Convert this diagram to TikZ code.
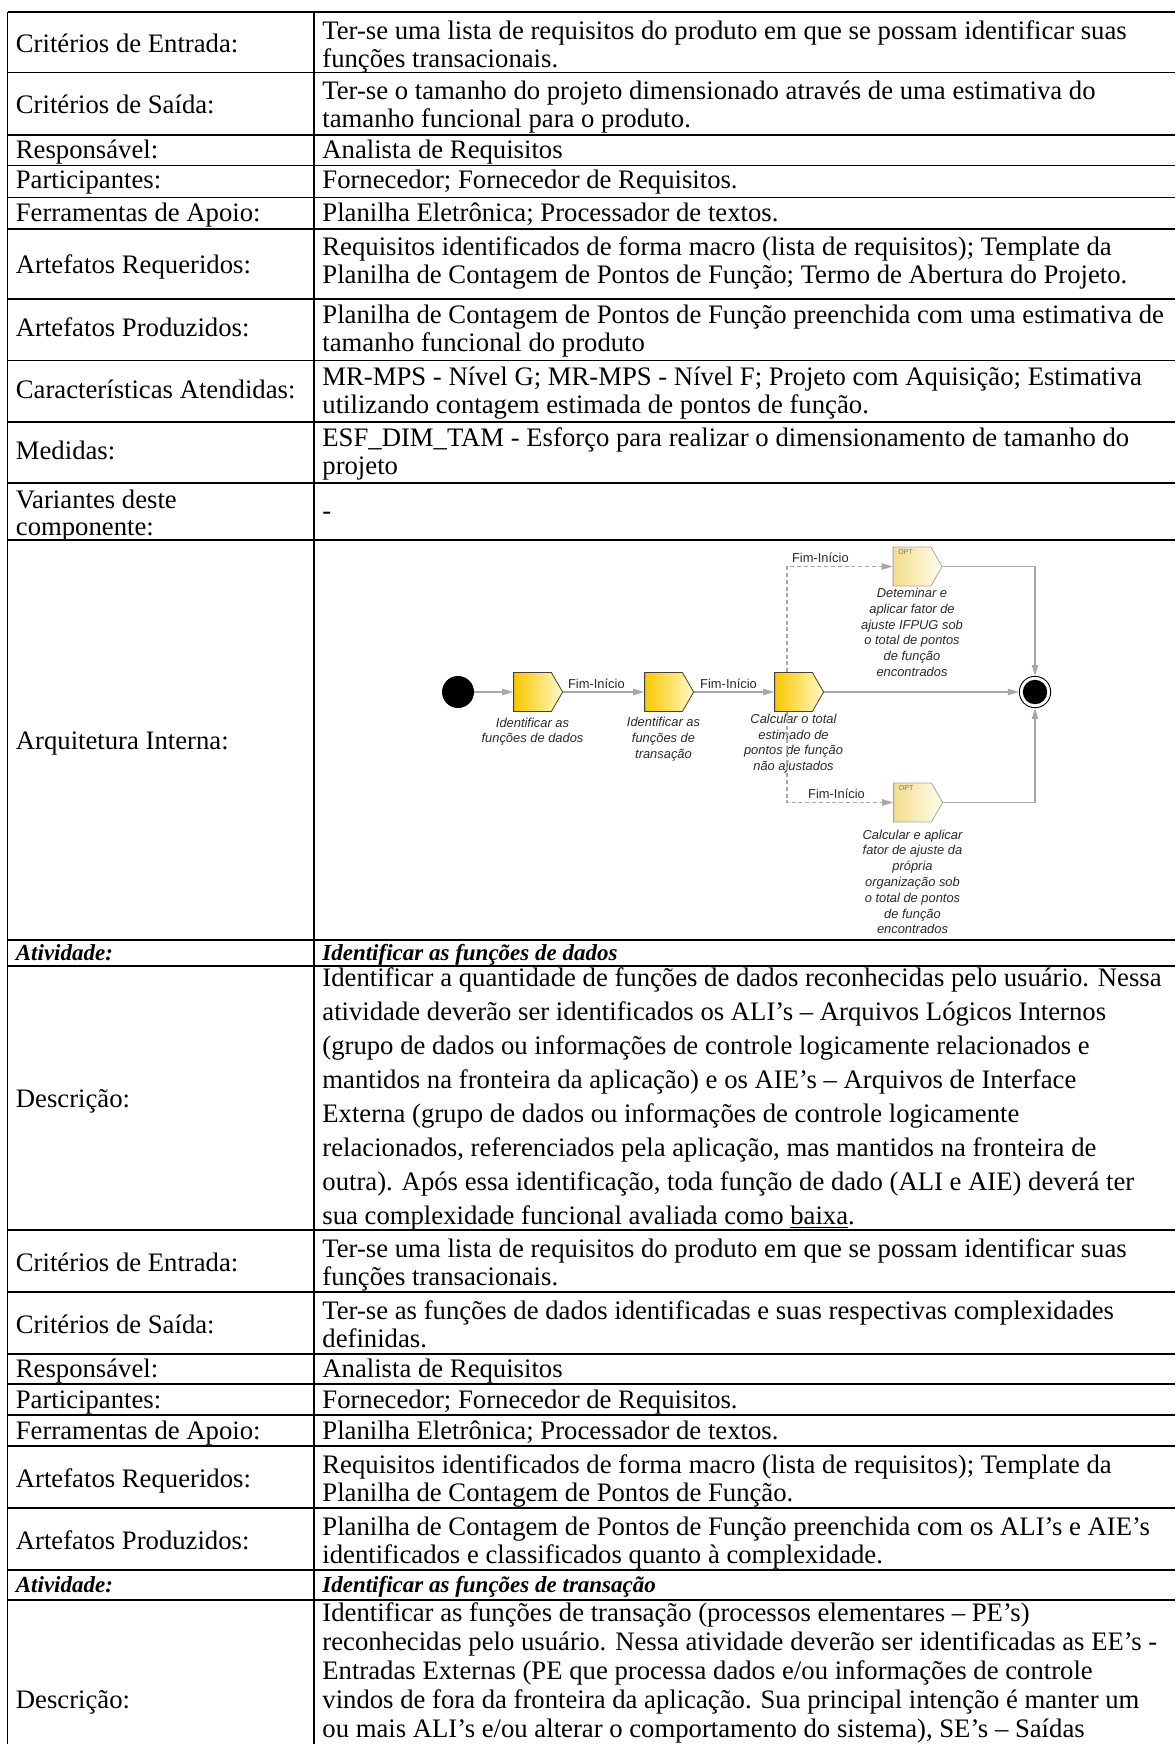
\documentclass[tikz,border=0pt]{standalone}
\usepackage{fontspec}
\setmainfont{Liberation Serif}
\newfontfamily\diagfont{Liberation Sans}
\usetikzlibrary{shapes.symbols,arrows.meta}

\definecolor{connGray}{HTML}{A8A8A8}
\definecolor{labelInk}{HTML}{2A2A2A}
\definecolor{taskGold}{HTML}{F9C800}
\definecolor{taskPale}{HTML}{FFF8C8}
\definecolor{optGold}{HTML}{F3DE8A}
\definecolor{optPale}{HTML}{FFFCEE}

% multi-line cell text; optional argument is the leading in pt
\newcommand\celltext[2][14]{\parbox[t]{470pt}{\fontsize{13.35}{#1}\selectfont\raggedright #2}}

\begin{document}
\begin{tikzpicture}[x=0.5pt,y=-0.5pt,
  rule/.style={line width=0.65pt,black},
  cell/.style={anchor=base west,inner sep=0pt,font=\fontsize{13.35}{14}\selectfont},
  head/.style={cell,font=\fontsize{11.5}{13}\selectfont\bfseries\itshape},
  task/.style={signal,signal to=east,signal pointer angle=120,draw=black!75,line width=0.4pt,
    left color=taskGold,right color=taskPale,minimum width=24.5pt,minimum height=19.5pt,inner sep=0pt},
  opttask/.style={task,draw=black!35,left color=optGold,right color=optPale},
  tasklabel/.style={anchor=north,inner sep=0pt,align=center,text=labelInk,
    font=\diagfont\itshape\fontsize{6.45}{7.9}\selectfont},
  flowlabel/.style={anchor=south,inner sep=1.5pt,text=labelInk,font=\diagfont\fontsize{6.45}{7.9}\selectfont},
  conn/.style={draw=connGray,line width=0.7pt,-{Triangle[length=5.5pt,width=3.2pt]}},
  dconn/.style={conn,dash pattern=on 2pt off 1.4pt},
]
\useasboundingbox (0,0) rectangle (1175,1744);
\fill[white] (0,0) rectangle (1175,1744);

% ---- table grid ----
\foreach \yy in {12,72.5,135,165.5,197.5,229,299,360.5,422,483,540,940,966,1230,1292,1354,1384,1415,1446,1508,1570,1600}
  \draw[rule] (7.5,\yy) -- (1175,\yy);
\draw[rule] (7.5,12) -- (7.5,1744);
\draw[rule] (314,12) -- (314,1744);

% ---- component rows ----
\node[cell] (k1) at (15.5,52.25) {Critérios de Entrada:};
\node[cell] (v1) at (322,39.5) {\celltext{Ter-se uma lista de requisitos do produto em que se possam identificar suas\\funções transacionais.}};
\node[cell] (k2) at (15.5,113.75) {Critérios de Saída:};
\node[cell] (v2) at (322,100) {\celltext{Ter-se o tamanho do projeto dimensionado através de uma estimativa do\\tamanho funcional para o produto.}};
\node[cell] (k3) at (15.5,158.5) {Responsável:};
\node[cell] (v3) at (322,158.5) {Analista de Requisitos};
\node[cell] (k4) at (15.5,189) {Participantes:};
\node[cell] (v4) at (322,189) {Fornecedor; Fornecedor de Requisitos.};
\node[cell] (k5) at (15.5,221) {Ferramentas de Apoio:};
\node[cell] (v5) at (322,221) {Planilha Eletrônica; Processador de textos.};
\node[cell] (k6) at (15.5,273) {Artefatos Requeridos:};
\node[cell] (v6) at (322,255.5) {\celltext{Requisitos identificados de forma macro (lista de requisitos); Template da\\Planilha de Contagem de Pontos de Função; Termo de Abertura do Projeto.}};
\node[cell] (k7) at (15.5,336.75) {Artefatos Produzidos:};
\node[cell] (v7) at (322,323.5) {\celltext{Planilha de Contagem de Pontos de Função preenchida com uma estimativa de\\tamanho funcional do produto}};
\node[cell] (k8) at (15.5,398.25) {Características Atendidas:};
\node[cell] (v8) at (322,385) {\celltext{MR-MPS - Nível G; MR-MPS - Nível F; Projeto com Aquisição; Estimativa\\utilizando contagem estimada de pontos de função.}};
\node[cell] (k9) at (15.5,459.5) {Medidas:};
\node[cell] (v9) at (322,446.5) {\celltext{ESF\_DIM\_TAM - Esforço para realizar o dimensionamento de tamanho do\\projeto}};
\node[cell] (k10) at (15.5,508.5) {\celltext[13.7]{Variantes deste\\componente:}};
\node[cell] (v10) at (322,519) {-};
\node[cell] (k11) at (15.5,749) {Arquitetura Interna:};

% ---- activity 1 ----
\node[head] (k12) at (15.5,960) {Atividade:};
\node[head] (v12) at (322,960) {Identificar as funções de dados};
\node[cell] (k13) at (15.5,1107) {Descrição:};
\node[cell] (v13) at (322,986) {\celltext[17]{Identificar a quantidade de funções de dados reconhecidas pelo usuário. Nessa\\
atividade deverão ser identificados os ALI’s – Arquivos Lógicos Internos\\
(grupo de dados ou informações de controle logicamente relacionados e\\
mantidos na fronteira da aplicação) e os AIE’s – Arquivos de Interface\\
Externa (grupo de dados ou informações de controle logicamente\\
relacionados, referenciados pela aplicação, mas mantidos na fronteira de\\
outra). Após essa identificação, toda função de dado (ALI e AIE) deverá ter\\
sua complexidade funcional avaliada como \underline{baixa}.}};
\node[cell] (k14) at (15.5,1271) {Critérios de Entrada:};
\node[cell] (v14) at (322,1257.5) {\celltext{Ter-se uma lista de requisitos do produto em que se possam identificar suas\\funções transacionais.}};
\node[cell] (k15) at (15.5,1333) {Critérios de Saída:};
\node[cell] (v15) at (322,1319.5) {\celltext{Ter-se as funções de dados identificadas e suas respectivas complexidades\\definidas.}};
\node[cell] (k16) at (15.5,1377.5) {Responsável:};
\node[cell] (v16) at (322,1377.5) {Analista de Requisitos};
\node[cell] (k17) at (15.5,1408) {Participantes:};
\node[cell] (v17) at (322,1408) {Fornecedor; Fornecedor de Requisitos.};
\node[cell] (k18) at (15.5,1439) {Ferramentas de Apoio:};
\node[cell] (v18) at (322,1439) {Planilha Eletrônica; Processador de textos.};
\node[cell] (k19) at (15.5,1487) {Artefatos Requeridos:};
\node[cell] (v19) at (322,1473.5) {\celltext{Requisitos identificados de forma macro (lista de requisitos); Template da\\Planilha de Contagem de Pontos de Função.}};
\node[cell] (k20) at (15.5,1549) {Artefatos Produzidos:};
\node[cell] (v20) at (322,1535.5) {\celltext{Planilha de Contagem de Pontos de Função preenchida com os ALI’s e AIE’s\\identificados e classificados quanto à complexidade.}};

% ---- activity 2 ----
\node[head] (k21) at (15.5,1592) {Atividade:};
\node[head] (v21) at (322,1592) {Identificar as funções de transação};
\node[cell] (k22) at (15.5,1708.5) {Descrição:};
\node[cell] (v22) at (322,1621.5) {\celltext[14.5]{Identificar as funções de transação (processos elementares – PE’s)\\
reconhecidas pelo usuário. Nessa atividade deverão ser identificadas as EE’s -\\
Entradas Externas (PE que processa dados e/ou informações de controle\\
vindos de fora da fronteira da aplicação. Sua principal intenção é manter um\\
ou mais ALI’s e/ou alterar o comportamento do sistema), SE’s – Saídas}};

% ---- internal architecture flow ----
\node[circle,fill=black,inner sep=0pt,minimum size=16pt] (start) at (458,692) {};
\node[task] (b1) at (532.5,692) {};
\node[task] (b2) at (663.5,692) {};
\node[task] (b3) at (793.5,692) {};
\node[opttask] (opt1) at (912,566.5) {};
\node[opttask] (opt2) at (912.5,802.5) {};
\node[circle,draw=black,line width=0.45pt,fill=white,inner sep=0pt,minimum size=15.7pt,
  path picture={\fill[black] (path picture bounding box.center) circle (6.1pt);}] (end) at (1035,692) {};

\node[anchor=north west,inner sep=0pt,text=black!55,font=\diagfont\fontsize{3.5}{4}\selectfont]
  (opt1tag) at ([xshift=-7pt,yshift=-1.2pt]opt1.north) {OPT};
\node[anchor=north west,inner sep=0pt,text=black!55,font=\diagfont\fontsize{3.5}{4}\selectfont]
  (opt2tag) at ([xshift=-7pt,yshift=-1.2pt]opt2.north) {OPT};

\node[tasklabel] (b1t) at ([yshift=-2.75pt]b1.south) {Identificar as\\funções de dados};
\node[tasklabel] (b2t) at ([yshift=-2.4pt]b2.south) {Identificar as\\funções de\\transação};
\node[tasklabel] (b3t) at ([yshift=-0.8pt]b3.south) {Calcular o total\\estimado de\\pontos de função\\não ajustados};
\node[tasklabel] (opt1t) at ([yshift=-0.7pt]opt1.south) {Deteminar e\\aplicar fator de\\ajuste IFPUG sob\\o total de pontos\\de função\\encontrados};
\node[tasklabel] (opt2t) at ([yshift=-3.5pt]opt2.south) {Calcular e aplicar\\fator de ajuste da\\própria\\organização sob\\o total de pontos\\de função\\encontrados};

\draw[conn] (start) -- (b1.west);
\draw[conn] (b1.east) -- node[flowlabel,pos=0.41] {Fim-Início} (b2.west);
\draw[conn] (b2.east) -- node[flowlabel,pos=0.43] {Fim-Início} (b3.west);
\draw[conn] (b3.east) -- (end.west);
\draw[dconn] ([xshift=-3.25pt]b3.north) |- node[flowlabel,pos=0.658] {Fim-Início} (opt1.west);
\draw[dconn] ([xshift=-3.25pt]b3.south) |- node[flowlabel,pos=0.733] {Fim-Início} (opt2.west);
\draw[conn] (opt1.east) -| (end.north);
\draw[conn] (opt2.east) -| (end.south);
\end{tikzpicture}
\end{document}
